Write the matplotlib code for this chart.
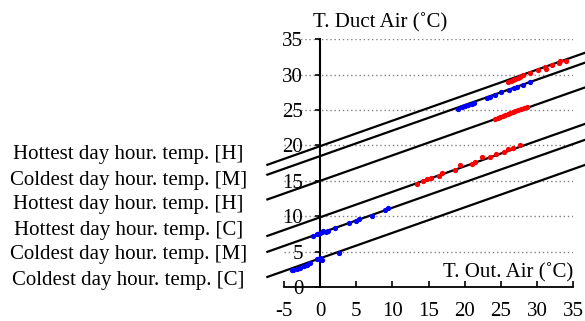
import matplotlib
matplotlib.use('Agg')
import matplotlib.pyplot as plt
import numpy as np

plt.rcParams['font.family'] = ['Liberation Serif', 'DejaVu Serif']
plt.rcParams['axes.unicode_minus'] = False

# measured points, hottest day (red)
red_x = [26.05, 26.4, 26.7, 27.0, 27.4, 27.7, 28.1, 29.0, 30.1, 31.1, 31.2, 32.1, 33.1, 33.2, 34.1,
         24.2, 24.6, 24.9, 25.3, 25.6, 26.0, 26.3, 26.7, 27.0, 27.4, 27.8, 28.2, 28.7,
         13.4, 14.3, 14.8, 15.4, 16.4, 16.8, 18.7, 19.4, 21.0, 21.4, 22.4, 23.5, 24.4, 25.4, 26.0, 26.7, 27.7]
red_y = [29.0, 29.15, 29.3, 29.45, 29.6, 29.7, 29.9, 30.3, 30.7, 31.1, 30.8, 31.4, 31.6, 31.9, 32.0,
         23.7, 23.9, 24.05, 24.15, 24.25, 24.4, 24.55, 24.7, 24.8, 24.95, 25.1, 25.3, 25.5,
         14.6, 15.0, 15.2, 15.35, 15.7, 16.1, 16.5, 17.2, 17.4, 17.6, 18.3, 18.3, 18.8, 19.1, 19.5, 19.6, 20.1]

# measured points, coldest day (blue)
blue_x = [19.1, 19.6, 20.1, 20.5, 21.0, 21.3, 23.1, 23.5, 24.2, 25.1, 26.1, 26.8, 27.2, 28.1, 29.0,
          -1.0, -0.46, 0.0, 0.2, 0.46, 1.15, 0.8, 2.07, 4.06, 5.0, 5.4, 7.15, 9.0, 9.45,
          -3.9, -3.7, -3.2, -2.77, -2.3, -1.84, -1.38, -0.46, 0.0, 0.23, 2.67]
blue_y = [25.2, 25.4, 25.6, 25.75, 25.9, 26.0, 26.7, 26.85, 27.2, 27.5, 27.8, 28.1, 28.3, 28.6, 28.9,
          7.2, 7.5, 7.7, 7.8, 7.9, 7.9, 7.75, 8.3, 9.1, 9.3, 9.55, 10.1, 10.9, 11.1,
          2.35, 2.4, 2.5, 2.7, 2.9, 3.1, 3.35, 3.9, 4.05, 3.8, 4.85]

# fitted lines (top to bottom)
line_intercepts = [19.9, 18.5, 15.0, 9.85, 7.6, 4.05]
line_slopes = [0.36, 0.36, 0.36, 0.36, 0.36, 0.36]
line_x = [-7.3, 40.0]

line_labels = ['Hottest day hour. temp. [H]',
               'Coldest day hour. temp. [M]',
               'Hottest day hour. temp. [H]',
               'Hottest day hour. temp. [C]',
               'Coldest day hour. temp. [M]',
               'Coldest day hour. temp. [C]']

x_ticks = [-5, 0, 5, 10, 15, 20, 25, 30, 35]
y_ticks = [0, 5, 10, 15, 20, 25, 30, 35]

W, H = 585, 321
fig = plt.figure(figsize=(W / 100, H / 100), dpi=100)
ax = fig.add_axes([284 / W, 1 - 287 / H, 289 / W, 247.7 / H])

ax.set_xlim(-5, 35)
ax.set_ylim(0, 35)

ax.spines['top'].set_visible(False)
ax.spines['right'].set_visible(False)
ax.spines['left'].set_position(('data', 0))
ax.spines['left'].set_linewidth(1.5)
ax.spines['bottom'].set_linewidth(1.3)

ax.set_xticks(x_ticks)
ax.set_yticks(y_ticks)
ax.tick_params(axis='x', direction='in', length=4, width=1.2, pad=11, labelsize=15)
ax.tick_params(axis='y', direction='out', length=3.6, width=1.2, pad=8.6, labelsize=15)

ax.set_axisbelow(True)
ax.yaxis.grid(True, linestyle=(0, (1, 2)), color='gray', linewidth=1)

for a, b in zip(line_intercepts, line_slopes):
    xs = np.array(line_x)
    ax.plot(xs, a + b * xs, color='black', lw=1.6, clip_on=False, zorder=3)

ax.plot(blue_x, blue_y, 'o', color='blue', ms=3.8, mec='none', clip_on=False, zorder=4)
ax.plot(red_x, red_y, 'o', color='red', ms=3.8, mec='none', clip_on=False, zorder=4)

ax.text(-1.0, 36.7, 'T. Duct Air (˚C)', fontsize=15, ha='left', va='baseline', clip_on=False)
ax.text(35, 1.3, 'T. Out. Air (˚C)', fontsize=15, ha='right', va='baseline')

label_base = [159.5, 184.5, 209.5, 234.5, 259.5, 284.5]
for txt, yb in zip(line_labels, label_base):
    fig.text(128.5 / W, 1 - yb / H, txt, fontsize=15, ha='center', va='baseline')

fig.savefig('out.png', dpi=100)
